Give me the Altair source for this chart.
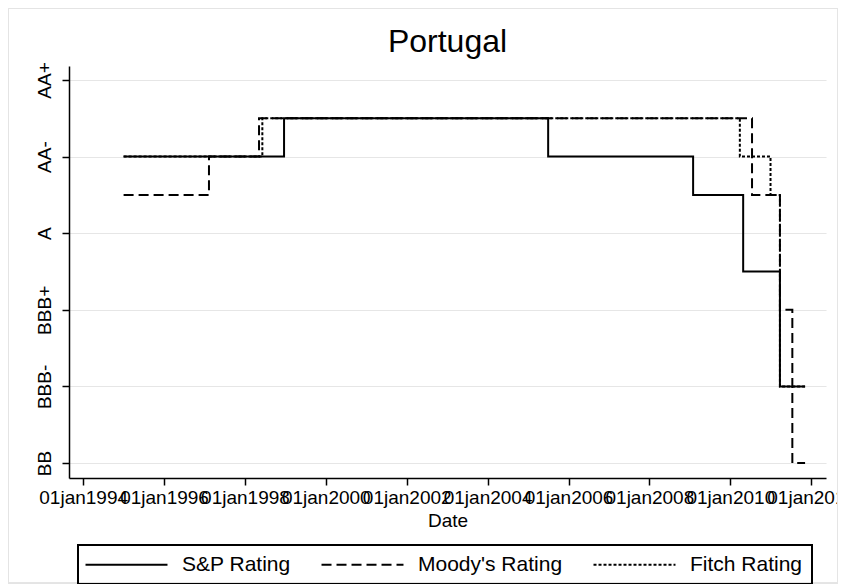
import altair as alt
import pandas as pd

# Rating scale (lowest to highest)
rating_scale = ["BB", "BB+", "BBB-", "BBB", "BBB+", "A-", "A", "A+", "AA-", "AA", "AA+"]
ytick_labels = ["BB", "BBB-", "BBB+", "A", "AA-", "AA+"]

series_names = ["S&P Rating", "Moody's Rating", "Fitch Rating"]

sp_dates = ["1995-01-01", "1998-12-20", "2005-07-01", "2009-01-30", "2010-04-27",
            "2011-03-25", "2011-11-07"]
sp_ratings = ["AA-", "AA", "AA-", "A+", "A-", "BBB-", "BBB-"]

moodys_dates = ["1995-01-01", "1997-02-10", "1998-05-08", "2010-07-16", "2011-03-25",
                "2011-07-15", "2011-11-07"]
moodys_ratings = ["A+", "AA-", "AA", "A+", "BBB+", "BB", "BB"]

fitch_dates = ["1995-01-01", "1998-06-07", "2010-03-28", "2010-12-30", "2011-03-25",
               "2011-11-07"]
fitch_ratings = ["AA-", "AA", "AA-", "A+", "BBB-", "BBB-"]

tick_years = [1994, 1996, 1998, 2000, 2002, 2004, 2006, 2008, 2010, 2012]

rows = []
for name, dates, rats in zip(series_names,
                             [sp_dates, moodys_dates, fitch_dates],
                             [sp_ratings, moodys_ratings, fitch_ratings]):
    for d, r in zip(dates, rats):
        rows.append({"series": name, "date": d, "rating": rating_scale.index(r)})
df = pd.DataFrame(rows)

ytick_vals = [rating_scale.index(l) for l in ytick_labels]
expr = "''"
for v, l in zip(ytick_vals, ytick_labels):
    expr = f"datum.value == {v} ? '{l}' : ({expr})"

FONT = "Liberation Sans"

lines = alt.Chart(df).mark_line(interpolate="step-after", color="black", strokeWidth=2).encode(
    x=alt.X("date:T", title="Date",
            scale=alt.Scale(type="utc", domain=[alt.DateTime(year=1993, month=8, date=26, utc=True),
                                                alt.DateTime(year=2012, month=5, date=14, utc=True)],
                            nice=False),
            axis=alt.Axis(values=[alt.DateTime(year=y, month=1, date=1, utc=True) for y in tick_years],
                          labelExpr="lower(utcFormat(datum.value, '%d%b%Y'))",
                          grid=False, labelOverlap=False, labelFlush=False,
                          labelPadding=3, titlePadding=4)),
    y=alt.Y("rating:Q", title=None,
            scale=alt.Scale(domain=[-0.39, 10.365], nice=False, zero=False),
            axis=alt.Axis(values=ytick_vals, labelExpr=expr, grid=True,
                          labelAngle=270, labelAlign="center", labelBaseline="bottom",
                          labelPadding=8, labelOverlap=False, labelFlush=False)),
    strokeDash=alt.StrokeDash("series:N",
                              scale=alt.Scale(domain=series_names,
                                              range=[[1, 0], [10, 5], [3, 2]]),
                              legend=alt.Legend(title=None, orient="none", legendX=9, legendY=479,
                                                direction="horizontal", columns=3,
                                                symbolType="M-2.34,0H13.66", symbolSize=105,
                                                symbolStrokeWidth=2, symbolStrokeColor="black",
                                                labelFont=FONT, labelFontSize=21, labelColor="black",
                                                labelOffset=74, columnPadding=26, padding=9,
                                                strokeColor="black")),
)

frame = alt.Chart(df).mark_rect(fill="transparent", stroke="#e4e4e4", strokeWidth=1).encode(
    x=alt.value(-60.5), x2=alt.value(769), y=alt.value(-57.5), y2=alt.value(517)
)

chart = alt.layer(frame, lines).properties(
    width=757, height=412,
    title=alt.Title("Portugal", font=FONT, fontSize=32, fontWeight="normal", color="black",
                    anchor="middle", offset=10, dy=61),
    padding={"left": 61, "top": 58, "right": 12, "bottom": 106},
    autosize=alt.AutoSizeParams(type="none"),
).configure_view(stroke=None).configure_axis(
    domainColor="black", domainWidth=1.5, tickColor="black", tickWidth=1.5, tickSize=7,
    labelFont=FONT, labelFontSize=19, labelColor="black",
    titleFont=FONT, titleFontSize=19, titleColor="black", titleFontWeight="normal",
    gridColor="#e6e6e6", gridWidth=1.2,
).configure_legend(strokeWidth=2)

chart.save("out.html", embed_options={"renderer": "svg", "actions": False})
